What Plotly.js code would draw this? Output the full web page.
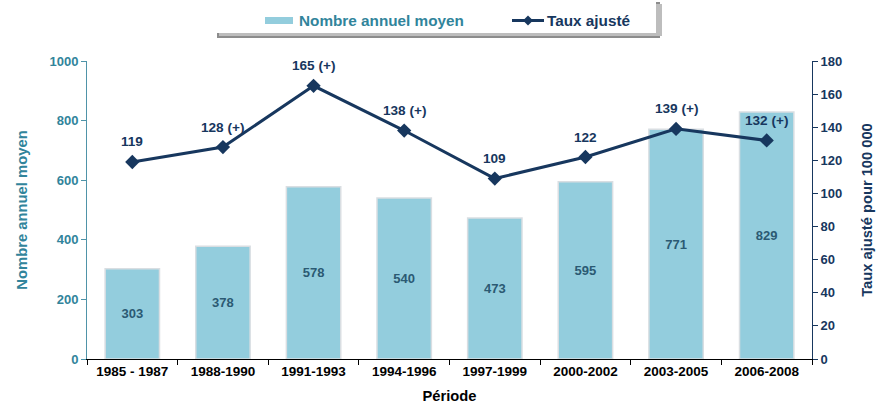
<!DOCTYPE html>
<html><head><meta charset="utf-8">
<script src="https://cdn.plot.ly/plotly-3.0.1.min.js"></script>
<style>body{margin:0;padding:0;background:#fff}#chart{width:895px;height:409px}</style>
</head><body><div id="chart"></div>
<script>
const periods = ['1985 - 1987','1988-1990','1991-1993','1994-1996','1997-1999','2000-2002','2003-2005','2006-2008'];
const nombre = [303,378,578,540,473,595,771,829];
const taux = [119,128,165,138,109,122,139,132];
const tauxLabels = ['119','128 (+)','165 (+)','138 (+)','109','122','139 (+)','132 (+)'];

const FONT = 'Liberation Sans, Arial, sans-serif';
const TEAL = '#31849B';
const NAVY = '#17375E';

const bars = {
  type:'bar', x:periods, y:nombre, name:'Nombre annuel moyen',
  marker:{color:'#93CDDD', line:{color:'#D9DEE2', width:1.5}},
  width:0.6,
  text:nombre.map(String), textposition:'inside', insidetextanchor:'middle',
  textangle:0,
  textfont:{family:FONT, size:13, color:'#2B5A73', weight:'bold'},
  hoverinfo:'x+y', showlegend:false
};
const line = {
  type:'scatter', mode:'lines+markers', x:periods, y:taux, yaxis:'y2', name:'Taux ajusté',
  line:{color:NAVY, width:3}, marker:{symbol:'diamond', size:11, color:NAVY},
  showlegend:false
};

const annotations = periods.map((p,i)=>({
  x:p, y:taux[i], xref:'x', yref:'y2', text:'<b>'+tauxLabels[i]+'</b>',
  showarrow:false, yshift:20, font:{family:FONT, size:13.6, color:NAVY}
}));
const px = v => (v-87)/725;
const py = v => (359-v)/298;
// manual legend
annotations.push({xref:'paper', yref:'paper', x:px(297), y:py(20.5), xanchor:'left', yanchor:'middle',
  text:'<b>Nombre annuel moyen</b>', showarrow:false, font:{family:FONT, size:15.3, color:TEAL}});
annotations.push({xref:'paper', yref:'paper', x:px(545), y:py(20.5), xanchor:'left', yanchor:'middle',
  text:'<b>Taux ajusté</b>', showarrow:false, font:{family:FONT, size:15.3, color:NAVY}});

const shapes = [
  {type:'rect', xref:'paper', yref:'paper', x0:px(217), x1:px(660), y0:py(38), y1:py(2), fillcolor:'#8C8C8C', line:{width:0}, layer:'below'},
  {type:'rect', xref:'paper', yref:'paper', x0:px(219), x1:px(662), y0:py(36), y1:py(4), fillcolor:'#BDBDBD', line:{width:0}, layer:'below'},
  {type:'rect', xref:'paper', yref:'paper', x0:px(214), x1:px(656), y0:py(33), y1:py(-2), fillcolor:'#FFFFFF', line:{width:0}, layer:'below'},
  {type:'rect', xref:'paper', yref:'paper', x0:px(265), x1:px(293), y0:py(24), y1:py(17), fillcolor:'#93CDDD', line:{width:0}},
  {type:'line', xref:'paper', yref:'paper', x0:px(512), x1:px(544), y0:py(20.5), y1:py(20.5), line:{color:NAVY, width:3}},
  {type:'path', xref:'paper', yref:'paper', path:`M ${px(528)} ${py(15.5)} L ${px(533)} ${py(20.5)} L ${px(528)} ${py(25.5)} L ${px(523)} ${py(20.5)} Z`, fillcolor:NAVY, line:{width:0}}
];

const layout = {
  width:895, height:409,
  margin:{l:87, r:83, t:61, b:50},
  paper_bgcolor:'#fff', plot_bgcolor:'#fff',
  font:{family:FONT},
  showlegend:false,
  bargap:0.4,
  xaxis:{type:'category', showline:true, linecolor:'#000', linewidth:1, ticks:'outside', ticklen:5, tickcolor:'#000',
    tickson:'boundaries', showgrid:false, zeroline:false, automargin:false,
    tickfont:{family:FONT, size:13.5, color:'#000', weight:'bold'},
    title:{text:'<b>Période</b>', font:{family:FONT, size:14.7, color:'#000'}, standoff:12}},
  yaxis:{range:[0,1000], dtick:200, showline:true, linecolor:'#4F93A8', linewidth:1, ticks:'outside', ticklen:5, tickcolor:'#4F93A8',
    showgrid:false, zeroline:false, automargin:false, tickfont:{family:FONT, size:13, color:TEAL, weight:'bold'},
    title:{text:'<b>Nombre annuel moyen</b>', font:{family:FONT, size:14.8, color:TEAL}, standoff:18}},
  yaxis2:{range:[0,180], dtick:20, overlaying:'y', side:'right', showline:true, linecolor:NAVY, linewidth:1, ticks:'outside', ticklen:5, tickcolor:NAVY,
    showgrid:false, zeroline:false, automargin:false, tickfont:{family:FONT, size:13, color:NAVY, weight:'bold'},
    title:{text:'<b>Taux ajusté pour 100 000</b>', font:{family:FONT, size:14.7, color:NAVY}, standoff:20}},
  annotations:annotations, shapes:shapes
};
Plotly.newPlot('chart',[bars,line],layout,{displayModeBar:false, staticPlot:true});
</script></body></html>
